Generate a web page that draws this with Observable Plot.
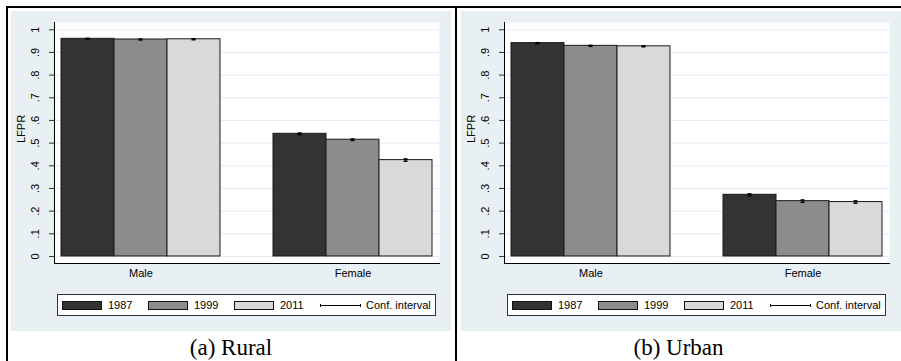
<!DOCTYPE html>
<html>
<head>
<meta charset="utf-8">
<script src="https://cdn.jsdelivr.net/npm/d3@7"></script>
<script src="https://cdn.jsdelivr.net/npm/@observablehq/plot@0.6"></script>
<style>
  html, body { margin: 0; padding: 0; background: #fff; }
  #root { position: relative; width: 901px; height: 361px; overflow: hidden; background: #fff; }
  .hline { position: absolute; background: #000; }
  .panel { position: absolute; top: 11px; width: 440px; height: 320px; background: #e9f0f3; }
  .panel svg.plot { position: absolute; left: 0; top: 0; }
  .legend { position: absolute; left: 46px; top: 283px; width: 379px; height: 22px; box-sizing: border-box;
            border: 1px solid #333; background: #fff; display: flex; align-items: center; padding-left: 4px;
            font-family: 'Liberation Sans', Arial, sans-serif; font-size: 11px; color: #000; }
  .item { display: flex; align-items: center; width: 86px; flex: none; }
  .item.ci { width: auto; }
  .sw { display: inline-block; width: 40px; height: 9px; box-sizing: border-box; border: 1px solid #111; margin-right: 6px; }
  .caption { position: absolute; top: 336px; font-family: 'Liberation Serif', 'Times New Roman', serif; font-size: 23px;
             line-height: 23px; text-align: center; color: #000; }
</style>
</head>
<body>
<div id="root"></div>
<script>
// ---- data ----
const sexes = ["Male", "Female"];
const years = ["1987", "1999", "2011"];
const barColors = ["#333333", "#8c8c8c", "#d9d9d9"];
// values ordered: Male 1987, 1999, 2011, Female 1987, 1999, 2011
const ruralValues = [0.960, 0.957, 0.958, 0.541, 0.515, 0.425];
const ruralCI     = [0.002, 0.002, 0.002, 0.003, 0.003, 0.005];
const urbanValues = [0.941, 0.929, 0.927, 0.272, 0.244, 0.240];
const urbanCI     = [0.002, 0.002, 0.002, 0.004, 0.005, 0.005];
const yTicks = [0, 0.1, 0.2, 0.3, 0.4, 0.5, 0.6, 0.7, 0.8, 0.9, 1];
const yTickLabels = ["0", ".1", ".2", ".3", ".4", ".5", ".6", ".7", ".8", ".9", "1"];
const yLabel = "LFPR";
const ciLabel = "Conf. interval";
const captions = ["(a) Rural", "(b) Urban"];

const root = document.getElementById("root");

function chart(values, ci) {
  const data = [];
  sexes.forEach((s, i) => years.forEach((yr, j) => {
    const k = i * 3 + j;
    data.push({key: s + " " + yr, sex: s, year: yr, value: values[k], lo: values[k] - ci[k], hi: values[k] + ci[k]});
  }));
  const domain = [];
  sexes.forEach((s, i) => {
    if (i > 0) domain.push("gap" + i);
    years.forEach(yr => domain.push(s + " " + yr));
  });
  const svg = Plot.plot({
    width: 440, height: 272,
    marginLeft: 43, marginRight: 12, marginTop: 11, marginBottom: 20,
    style: {background: "transparent", fontFamily: "'Liberation Sans', Arial, sans-serif", fontSize: "11px", color: "#000", overflow: "visible"},
    x: {domain, paddingInner: 0, paddingOuter: 0.125},
    y: {domain: [-0.031, 1.032]},
    color: {domain: years, range: barColors},
    marks: [
      Plot.frame({fill: "#fff", stroke: null}),
      Plot.gridY(yTicks, {stroke: "#e4ecef", strokeOpacity: 1, strokeWidth: 1}),
      Plot.barY(data, {x: "key", y: "value", fill: "year", stroke: "#1a1a1a", strokeWidth: 1}),
      Plot.ruleX(data, {x: "key", y1: "lo", y2: "hi", stroke: "#000", strokeWidth: 1.2}),
      Plot.tickY(data, {x: "key", y: "lo", stroke: "#000", strokeWidth: 1.5, insetLeft: 24.5, insetRight: 24.5}),
      Plot.tickY(data, {x: "key", y: "hi", stroke: "#000", strokeWidth: 1.5, insetLeft: 24.5, insetRight: 24.5}),
      Plot.frame({anchor: "left", stroke: "#000", strokeWidth: 1}),
      Plot.frame({anchor: "bottom", stroke: "#000", strokeWidth: 1}),
      Plot.axisY(yTicks, {tickSize: 5, tickRotate: -90, tickPadding: 11, stroke: "#333",
        tickFormat: d => yTickLabels[yTicks.indexOf(d)], label: null, fill: "#000"}),
      Plot.text([yLabel], {frameAnchor: "left", rotate: -90, dx: -33, fill: "#000", fontSize: 11}),
      Plot.axisX([sexes[0] + " " + years[1], sexes[1] + " " + years[1]], {tickSize: 0, tickPadding: 6,
        tickFormat: d => d.split(" ")[0], label: null, fill: "#000"})
    ]
  });
  svg.classList.add("plot");
  return svg;
}

function legend() {
  const lg = document.createElement("div");
  lg.className = "legend";
  years.forEach((yr, i) => {
    const it = document.createElement("div");
    it.className = "item";
    it.innerHTML = `<span class="sw" style="background:${barColors[i]}"></span><span>${yr}</span>`;
    lg.appendChild(it);
  });
  const ci = document.createElement("div");
  ci.className = "item ci";
  ci.innerHTML = `<svg width="41" height="7" style="margin-right:5px"><line x1="0.5" y1="3.5" x2="40.5" y2="3.5" stroke="#000" stroke-width="1"/><line x1="0.5" y1="2" x2="0.5" y2="5" stroke="#000"/><line x1="40.5" y1="2" x2="40.5" y2="5" stroke="#000"/></svg><span>${ciLabel}</span>`;
  lg.appendChild(ci);
  return lg;
}

// borders
function line(l, t, w, h) {
  const d = document.createElement("div");
  d.className = "hline";
  Object.assign(d.style, {left: l + "px", top: t + "px", width: w + "px", height: h + "px"});
  root.appendChild(d);
}
line(6, 6, 895, 1.5);
line(6, 6, 1.5, 355);
line(455, 6, 1.5, 355);

[[ruralValues, ruralCI, 11, 6, 450], [urbanValues, urbanCI, 461, 456, 445]].forEach(([v, c, left, capLeft, capW], i) => {
  const p = document.createElement("div");
  p.className = "panel";
  p.style.left = left + "px";
  p.appendChild(chart(v, c));
  p.appendChild(legend());
  root.appendChild(p);
  const cap = document.createElement("div");
  cap.className = "caption";
  cap.style.left = capLeft + "px";
  cap.style.width = capW + "px";
  cap.textContent = captions[i];
  root.appendChild(cap);
});
</script>
</body>
</html>
